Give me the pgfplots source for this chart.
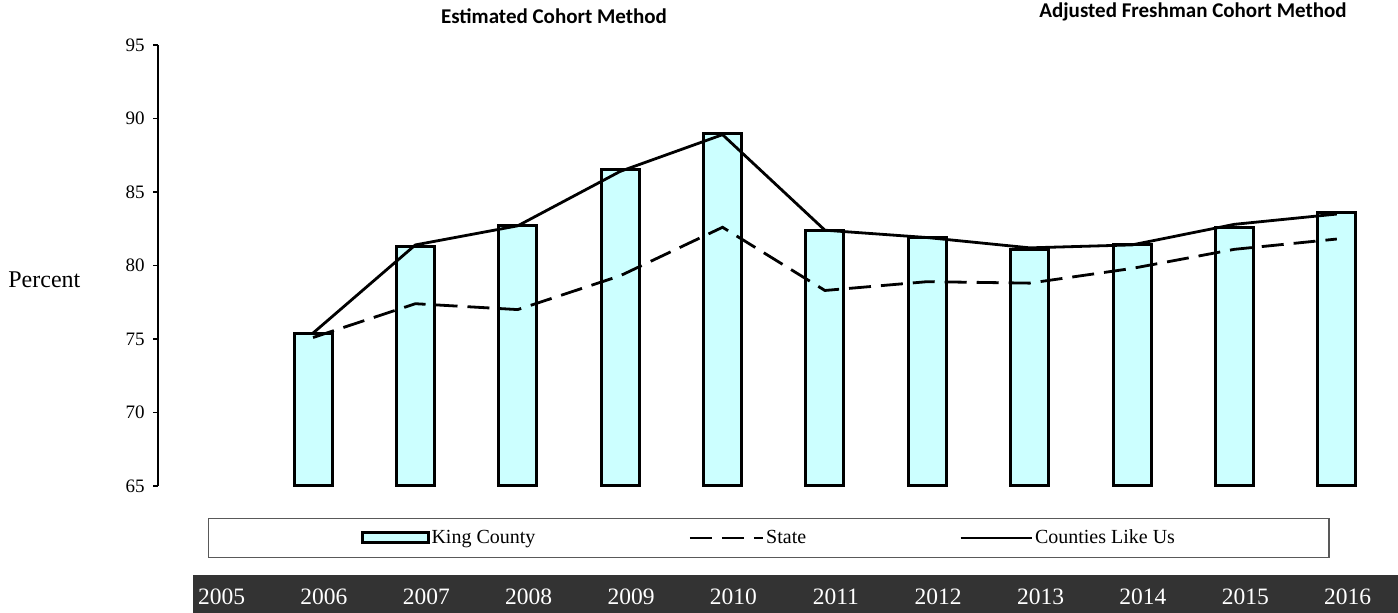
\documentclass[border=0pt]{standalone}
\usepackage{fontspec}
\setmainfont{Liberation Serif}
\newfontfamily\calibri{Carlito}
\usepackage{pgfplots}
\pgfplotsset{compat=1.18}
\usepackage{pgfplotstable}
\definecolor{barfill}{HTML}{CCFFFF}
\definecolor{strip}{HTML}{333333}

\pgfplotsset{
  kcleg/.style={legend image code/.code={\draw[##1] (0pt,-2.5pt) rectangle (33pt,2.5pt);}},
  stleg/.style={legend image code/.code={\draw[##1] (0pt,0pt) -- (36.5pt,0pt);}},
  clleg/.style={legend image code/.code={\draw[##1] (0pt,0pt) -- (35.5pt,0pt);}},
}

\pgfplotstableread{
year kc    state clu
2006 75.4  75.1  75.4
2007 81.3  77.4  81.4
2008 82.7  77.0  82.7
2009 86.5  79.3  86.4
2010 89.0  82.6  88.9
2011 82.4  78.3  82.4
2012 81.9  78.9  81.9
2013 81.1  78.8  81.2
2014 81.4  79.8  81.4
2015 82.6  81.1  82.8
2016 83.6  81.8  83.5
}\datatable

\begin{document}
\begin{tikzpicture}
\useasboundingbox (0,0) rectangle (699pt,306.5pt);
% dark year strip
\fill[strip] (96.5pt,0pt) rectangle (699pt,19pt);
% titles
\node[anchor=base, inner sep=0pt, font=\calibri\bfseries\fontsize{10.5}{12}\selectfont] at (277pt,294.5pt) {Estimated Cohort Method};
\node[anchor=base, inner sep=0pt, font=\calibri\bfseries\fontsize{10.5}{12}\selectfont] at (596.5pt,297.5pt) {Adjusted Freshman Cohort Method};
% y label
\node[anchor=base west, inner sep=0pt, font=\fontsize{12}{14}\selectfont] at (4pt,162.5pt) {Percent};

% bars
\begin{axis}[
  at={(79pt,63.5pt)}, anchor=south west,
  scale only axis, width=615pt, height=220.5pt,
  xmin=2004.486, xmax=2016.5, ymin=65, ymax=95,
  hide axis, clip=false,
  ybar stacked, bar width=19pt,
]
\addplot[draw=none, fill=none] table[x=year, y expr=65] {\datatable};
\addplot[fill=barfill, draw=black, line width=1.5pt] table[x=year, y expr=\thisrow{kc}-65] {\datatable};
\end{axis}

% lines, axis, legend
\begin{axis}[
  at={(79pt,63.5pt)}, anchor=south west,
  scale only axis, width=615pt, height=220.5pt,
  xmin=2004.486, xmax=2016.5, ymin=65, ymax=95,
  axis y line*=left, axis x line*=bottom,
  x axis line style={draw=none},
  y axis line style={line width=0.75pt},
  ytick={65,70,...,95},
  xtick={2005,...,2016},
  xticklabels={2005,2006,2007,2008,2009,2010,2011,2012,2013,2014,2015,2016},
  xtick style={draw=none},
  ytick style={line width=0.75pt, black},
  tick align=outside, major tick length=2.5pt,
  /pgf/number format/assume math mode=true,
  yticklabel style={font=\fontsize{9.5}{10}\selectfont, inner xsep=0pt, xshift=-4pt},
  xticklabel style={font=\fontsize{11.75}{12}\selectfont, text=white, anchor=center, yshift=-52.75pt, xshift=5.5pt},
  legend columns=3,
  legend cell align=left,
  legend style={at={(0.0406,-0.1633)}, anchor=south west,
    draw=gray!70!black, line width=0.6pt,
    inner xsep=76pt, inner ysep=3pt,
    font=\fontsize{10}{12}\selectfont,
    nodes={inner xsep=1pt, inner ysep=2.5pt},
    /tikz/every even column/.append style={column sep=75.5pt}},
]
\addlegendimage{fill=barfill, draw=black, line width=1.5pt, kcleg}
\addlegendentry{King County}
\addplot[black, line width=1.4pt, dash pattern=on 11pt off 5pt, stleg]
  table[x=year, y=state] {\datatable};
\addlegendentry{State}
\addplot[black, line width=1.4pt, clleg]
  table[x=year, y=clu] {\datatable};
\addlegendentry{Counties Like Us}
\end{axis}
\end{tikzpicture}
\end{document}
